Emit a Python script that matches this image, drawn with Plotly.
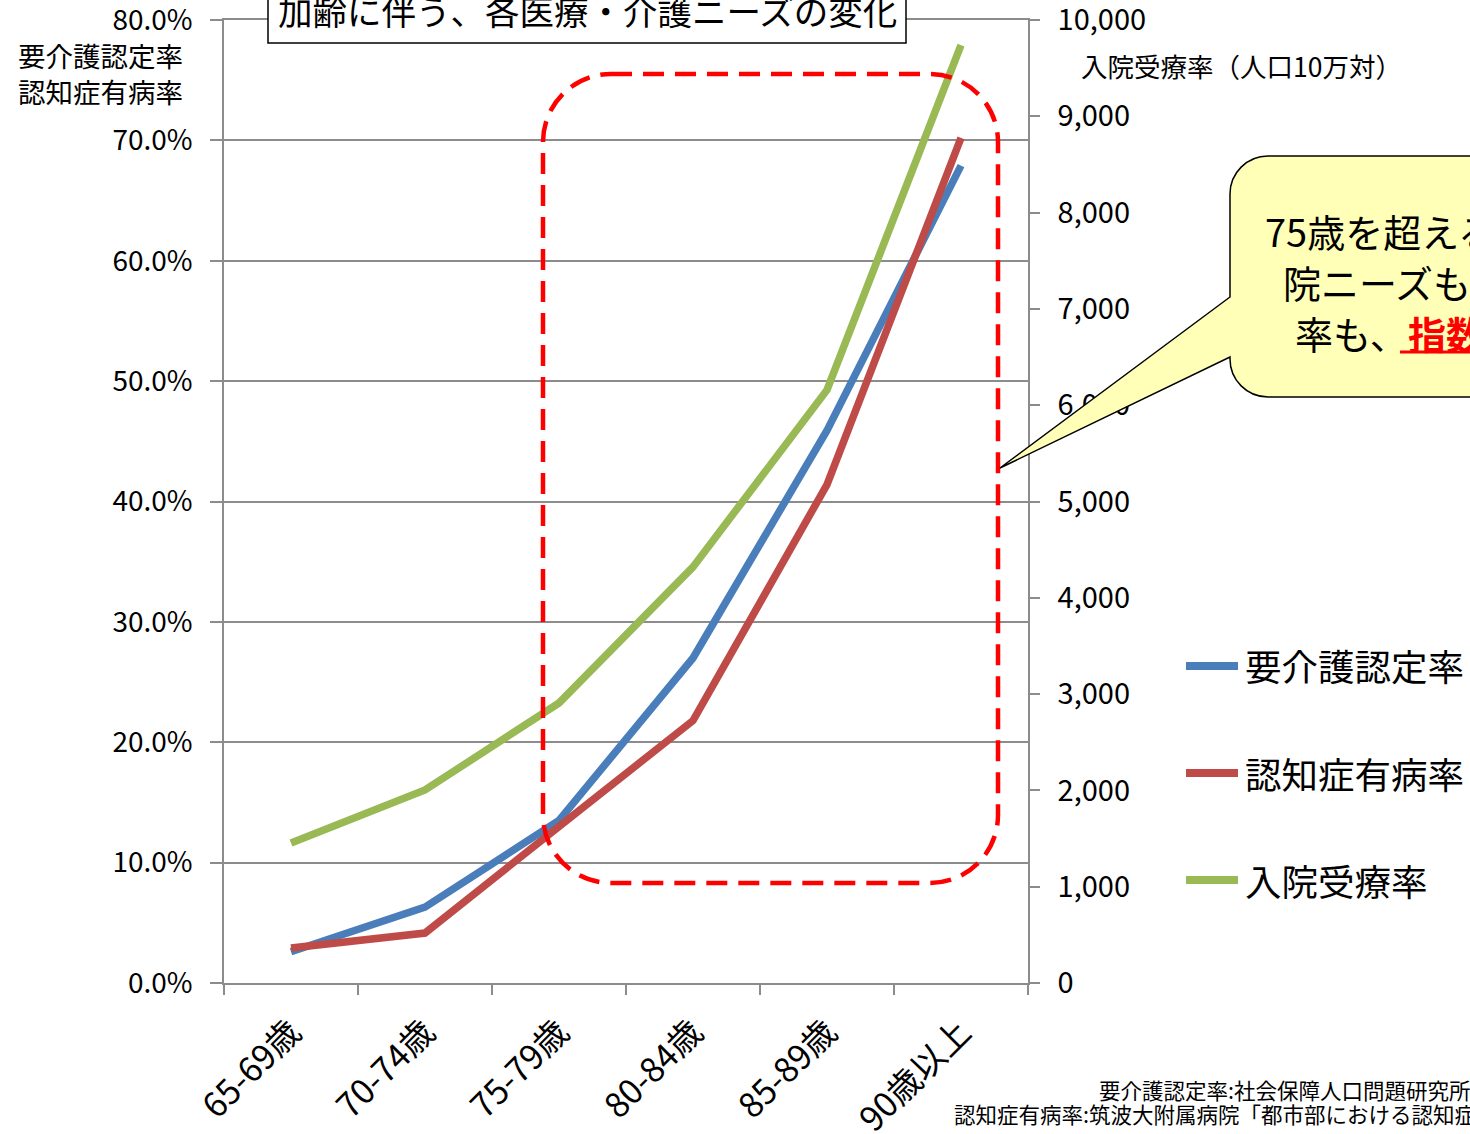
import plotly.graph_objects as go

categories = ["65-69歳", "70-74歳", "75-79歳", "80-84歳", "85-89歳", "90歳以上"]
care_cert_rate = [0.026, 0.063, 0.135, 0.270, 0.459, 0.679]      # 要介護認定率
dementia_rate = [0.029, 0.0415, 0.130, 0.218, 0.414, 0.702]      # 認知症有病率
inpatient_rate = [1454, 2004, 2908, 4320, 6158, 9740]            # 入院受療率（人口10万対）

left_ticks = [0, 0.1, 0.2, 0.3, 0.4, 0.5, 0.6, 0.7, 0.8]
right_ticks = [0, 1000, 2000, 3000, 4000, 5000, 6000, 7000, 8000, 9000, 10000]

W, H = 1470, 1134
L, R, T, B = 224, 1028, 20, 983
FONT = "Noto Sans CJK JP"


def px(x):
    return (x - L) / (R - L)


def py(y):
    return (B - y) / (B - T)


def P(x, y):
    return f"{px(x):.5f},{py(y):.5f}"


fig = go.Figure()
fig.add_trace(go.Scatter(x=categories, y=care_cert_rate, mode="lines", name="要介護認定率",
                         line=dict(color="#4A7EBB", width=7.5), yaxis="y", showlegend=False))
fig.add_trace(go.Scatter(x=categories, y=dementia_rate, mode="lines", name="認知症有病率",
                         line=dict(color="#BE4B48", width=7.5), yaxis="y", showlegend=False))
fig.add_trace(go.Scatter(x=categories, y=inpatient_rate, mode="lines", name="入院受療率",
                         line=dict(color="#98B954", width=7.5), yaxis="y2", showlegend=False))

grid = "#8C8C8C"
fig.update_layout(
    width=W, height=H,
    margin=dict(l=L, r=W - R, t=T, b=H - B, pad=0, autoexpand=False),
    paper_bgcolor="white", plot_bgcolor="white",
    font=dict(family=FONT, color="black"),
    xaxis=dict(type="category", range=[-0.5, 5.5], tickson="boundaries", ticks="outside",
               ticklen=10, tickcolor=grid, tickwidth=1.5, showgrid=False, showline=True,
               mirror=True, linecolor=grid, linewidth=1.5, tickangle=-45, ticklabelstandoff=14,
               tickfont=dict(size=34, family=FONT), automargin=False, ticklabeloverflow="allow"),
    yaxis=dict(range=[0, 0.8], tickvals=left_ticks, tickformat=".1%", ticks="outside",
               ticklen=12, tickcolor=grid, tickwidth=1.5, showgrid=True, gridcolor=grid,
               gridwidth=1.5, showline=True, linecolor=grid, linewidth=1.5,
               zeroline=False, tickfont=dict(size=28, family=FONT), ticklabelstandoff=12,
               automargin=False, ticklabeloverflow="allow"),
    yaxis2=dict(range=[0, 10000], tickvals=right_ticks, tickformat=",", overlaying="y",
                side="right", ticks="outside", ticklen=10, tickcolor=grid, tickwidth=1.5,
                showgrid=False, showline=True, linecolor=grid, linewidth=1.5, zeroline=False,
                tickfont=dict(size=29, family=FONT), ticklabelstandoff=12,
                automargin=False, ticklabeloverflow="allow"),
)

shapes = []
# red dashed rounded rectangle
x0, x1, y0, y1, r = 543, 998, 74, 883, 68
k = 0.5523 * r
path = (f"M {P(x0 + r, y0)} L {P(x1 - r, y0)} "
        f"C {P(x1 - r + k, y0)} {P(x1, y0 + r - k)} {P(x1, y0 + r)} "
        f"L {P(x1, y1 - r)} C {P(x1, y1 - r + k)} {P(x1 - r + k, y1)} {P(x1 - r, y1)} "
        f"L {P(x0 + r, y1)} C {P(x0 + r - k, y1)} {P(x0, y1 - r + k)} {P(x0, y1 - r)} "
        f"L {P(x0, y0 + r)} C {P(x0, y0 + r - k)} {P(x0 + r - k, y0)} {P(x0 + r, y0)} Z")
shapes.append(dict(type="path", path=path, xref="paper", yref="paper",
                   line=dict(color="#FF0000", width=4.5, dash="21px,11px"), layer="above"))

# callout balloon
cx0, cx1, cy0, cy1, cr = 1230, 1700, 156, 397, 38
ck = 0.5523 * cr
cpath = (f"M {P(cx0 + cr, cy0)} L {P(cx1, cy0)} L {P(cx1, cy1)} L {P(cx0 + cr, cy1)} "
         f"C {P(cx0 + cr - ck, cy1)} {P(cx0, cy1 - cr + ck)} {P(cx0, cy1 - cr)} "
         f"L {P(cx0, 357)} L {P(1000, 468)} L {P(cx0, 297)} "
         f"L {P(cx0, cy0 + cr)} C {P(cx0, cy0 + cr - ck)} {P(cx0 + cr - ck, cy0)} {P(cx0 + cr, cy0)} Z")
shapes.append(dict(type="path", path=cpath, xref="paper", yref="paper",
                   fillcolor="#FFFFB8", line=dict(color="black", width=1.5), layer="above"))

# title box
shapes.append(dict(type="rect", xref="paper", yref="paper",
                   x0=px(268), x1=px(906), y0=py(43), y1=py(-5),
                   fillcolor="white", line=dict(color="black", width=1.5), layer="above"))

# legend swatches
leg_y = [666, 773, 880]
leg_colors = ["#4A7EBB", "#BE4B48", "#98B954"]
leg_names = ["要介護認定率", "認知症有病率", "入院受療率"]
for yy, c in zip(leg_y, leg_colors):
    shapes.append(dict(type="line", xref="paper", yref="paper", x0=px(1186), x1=px(1238),
                       y0=py(yy), y1=py(yy), line=dict(color=c, width=8), layer="above"))

# underline under red emphasis text
shapes.append(dict(type="line", xref="paper", yref="paper", x0=px(1400), x1=px(1700),
                   y0=py(352), y1=py(352), line=dict(color="#FF0000", width=3), layer="above"))

fig.update_layout(shapes=shapes)

ann = []


def A(text, x, y, size, xanchor="left", yanchor="middle", **kw):
    ann.append(dict(text=text, x=px(x), y=py(y), xref="paper", yref="paper", showarrow=False,
                    xanchor=xanchor, yanchor=yanchor, align=kw.pop("align", "left"),
                    font=dict(size=size, family=FONT, color=kw.pop("color", "black")), **kw))


A("加齢に伴う、各医療・介護ニーズの変化", 587, 10, 34.5, xanchor="center")
A("要介護認定率<br>認知症有病率", 16, 73, 27.5, align="left")
A("入院受療率（人口10万対）", 1079, 66, 26.5)
for yy, name in zip(leg_y, leg_names):
    A(name, 1243, yy, 36.5)

A("75歳を超えると入", 1263, 230, 38)
A("院ニーズも有病", 1281, 281, 38)
A('率も、<span style="color:#FF0000"><b>指数関数的に増加</b></span>', 1293, 332, 38)

A("要介護認定率:社会保障人口問題研究所「日本の将来推計人口」", 1097, 1089, 21.5)
A("認知症有病率:筑波大附属病院「都市部における認知症有病率と認知症の生活機能障害への対応」", 952, 1113, 21.5)

fig.update_layout(annotations=ann)
fig.write_html("out.html")
